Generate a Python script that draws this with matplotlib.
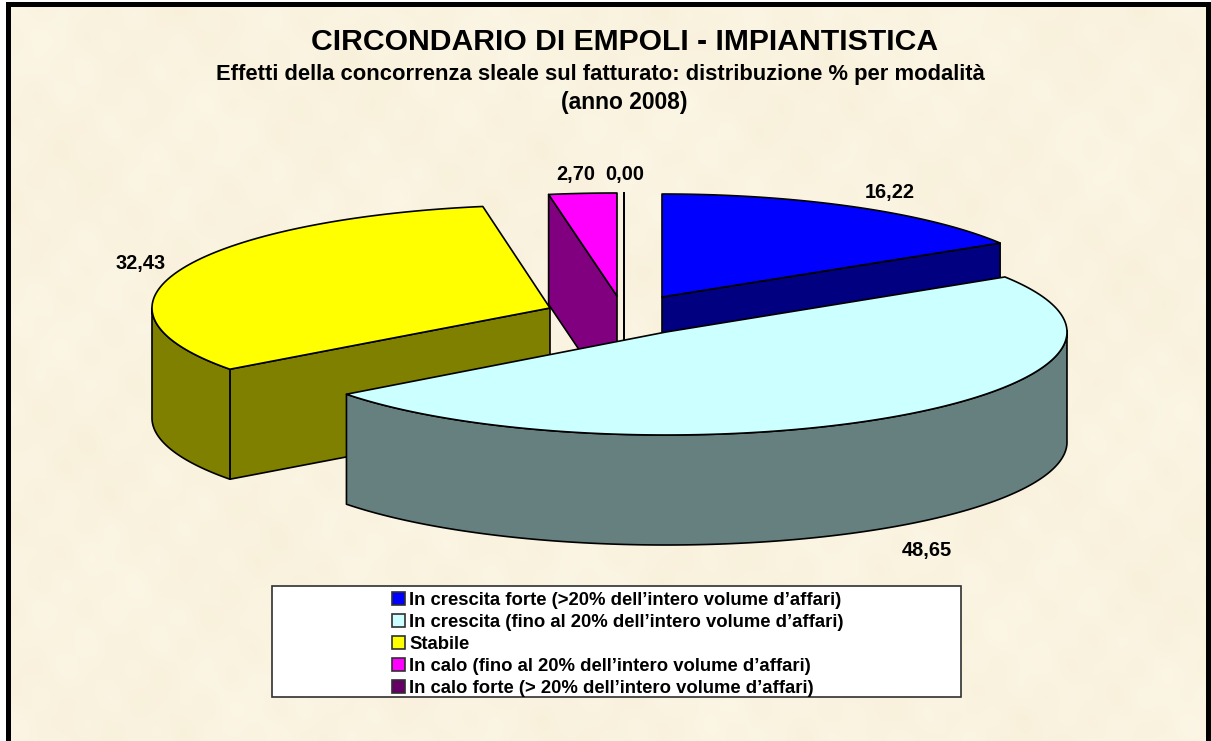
import numpy as np
import matplotlib
matplotlib.use("Agg")
import matplotlib.pyplot as plt
from matplotlib.patches import Polygon, Rectangle, Patch

categories = [
    "In crescita forte (>20% dell\u2019intero volume d\u2019affari)",
    "In crescita (fino al 20% dell\u2019intero volume d\u2019affari)",
    "Stabile",
    "In calo (fino al 20% dell\u2019intero volume d\u2019affari)",
    "In calo forte (> 20% dell\u2019intero volume d\u2019affari)",
]
values = [16.22, 48.65, 32.43, 2.70, 0.00]
value_labels = ["16,22", "48,65", "32,43", "2,70", "0,00"]

top_colors = ["#0000FF", "#CCFFFF", "#FFFF00", "#FF00FF", "#800080"]
side_colors = ["#000080", "#668080", "#808000", "#800080", "#400040"]
legend_colors = ["#0000FF", "#CCFFFF", "#FFFF00", "#FF00FF", "#660066"]

# layout (pixels)
W, H = 1211, 741
apex = [(662, 297), (666, 332), (550, 308), (617, 296), (624, 296)]
rx = [397, 401, 398, 405, 403]
angle_shift = [0.0, -0.7, 0.0, 0.0, 0.0]
RY, DEPTH = 103, 110
label_pos = [(890, 198), (927, 556), (141, 269), (575.5, 180), (624.5, 180)]
LINE = "#000000"
LW = 1.2

plt.rcParams["font.family"] = ["Liberation Sans", "DejaVu Sans"]
plt.rcParams["font.weight"] = "bold"

fig = plt.figure(figsize=(W / 100, H / 100), dpi=100, facecolor="white")
ax = fig.add_axes([0, 0, 1, 1])

# parchment background (smooth deterministic mottling)
yy, xx = np.mgrid[0:H:2, 0:W:2]
m = (np.sin(xx / 37 + yy / 53) + np.sin(xx / 19 - yy / 23 + 1.3)
     + np.sin(xx / 11 + yy / 13 + 0.7) + np.sin(xx / 71 - yy / 41 + 2.1)
     + np.sin(xx / 7.3 - yy / 9.1 + 0.4) * np.sin(xx / 29 + yy / 31)) / 5
base = np.array([250, 243, 224], dtype=float)
amp = np.array([2, 3, 6], dtype=float)
tex = np.clip(base[None, None, :] + m[:, :, None] * amp[None, None, :], 0, 255) / 255
ax.imshow(tex, extent=(0, W, H, 0), interpolation="bilinear", aspect="auto", zorder=0)

# page frame: white margin and thick black border, open at the bottom
ax.add_patch(Rectangle((0, 0), W, 2, fc="white", ec="none", zorder=1))
ax.add_patch(Rectangle((0, 0), 6, H, fc="white", ec="none", zorder=1))
ax.add_patch(Rectangle((6, 2), W - 6, 5, fc="black", ec="none", zorder=2))
ax.add_patch(Rectangle((6, 2), 5, H - 2, fc="black", ec="none", zorder=2))
ax.add_patch(Rectangle((W - 5, 2), 5, H - 2, fc="black", ec="none", zorder=2))


def rim(i, a0, a1, n=160):
    t = np.radians(np.linspace(a0, a1, n) + angle_shift[i])
    return np.column_stack([apex[i][0] + rx[i] * np.sin(t), apex[i][1] - RY * np.cos(t)])


def poly(pts, fc, z):
    ax.add_patch(Polygon(pts, closed=True, fc=fc, ec=LINE, lw=LW, joinstyle="round", zorder=z))


starts = np.concatenate([[0], np.cumsum(values)[:-1]]) * 3.6
ends = np.cumsum(values) * 3.6
draw_order = [4, 3, 2, 0, 1]
drop = np.array([0, DEPTH])
for z, i in enumerate(draw_order):
    z0 = 5 + z * 3
    a0, a1 = starts[i], ends[i]
    c = np.array(apex[i], dtype=float)
    top = rim(i, a0, a1)
    # cut wall on the radius that faces the viewer
    if i == 0:
        p = rim(i, a1, a1, 1)[0]
        poly([c, p, p + drop, c + drop], side_colors[i], z0)
    if i in (2, 3, 4):
        p = rim(i, a0, a0, 1)[0]
        poly([c, p, p + drop, c + drop], side_colors[i], z0)
    # outer wall, only the front half of the rim
    f0, f1 = max(a0, 90), min(a1, 270)
    if f1 > f0:
        arc = rim(i, f0, f1)
        poly(np.vstack([arc, (arc + drop)[::-1]]), side_colors[i], z0 + 1)
    poly(np.vstack([[c], top]), top_colors[i], z0 + 2)

# data labels
for (x, y), s in zip(label_pos, value_labels):
    ax.text(x, y, s, ha="center", va="baseline", fontsize=14.4, color="black", zorder=40)

# titles
ax.text(625, 49.5, "CIRCONDARIO DI EMPOLI - IMPIANTISTICA", ha="center", va="baseline",
        fontsize=21.7, color="black", zorder=40)
ax.text(600, 80, "Effetti della concorrenza sleale sul fatturato: distribuzione % per modalit\u00e0",
        ha="center", va="baseline", fontsize=15.8, color="black", zorder=40)
ax.text(624, 109, "(anno 2008)", ha="center", va="baseline", fontsize=16.4, color="black", zorder=40)

# legend
ax.add_patch(Rectangle((272, 586), 689, 111, fc="white", ec="#303030", lw=1.2, zorder=30))
handles = [Patch(fc=c, ec="#303030", lw=1.2) for c in legend_colors]
leg = ax.legend(handles, categories, loc="upper left", bbox_to_anchor=(392, 592),
                bbox_transform=ax.transData, frameon=False, fontsize=13.3,
                handlelength=0.72, handleheight=0.7, handletextpad=0.22,
                labelspacing=0.27, borderpad=0.0, borderaxespad=0.0)
leg.set_zorder(41)

ax.set_xlim(0, W)
ax.set_ylim(H, 0)
ax.axis("off")
fig.savefig("out.png", dpi=100, facecolor="white")
